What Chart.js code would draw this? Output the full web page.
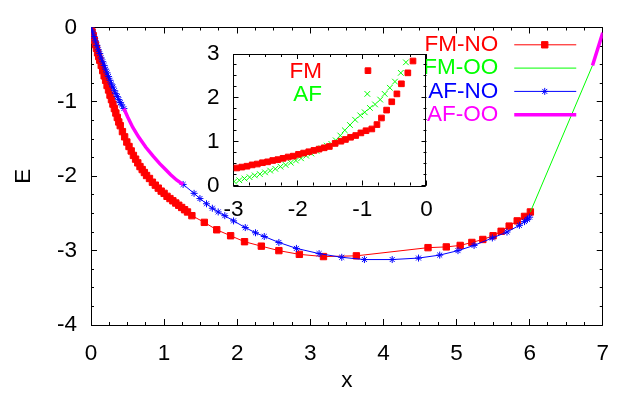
<!DOCTYPE html>
<html>
<head>
<meta charset="utf-8">
<script src="https://cdn.jsdelivr.net/npm/chart.js@4.4.1/dist/chart.umd.min.js"></script>
<style>
  html, body { margin: 0; padding: 0; background: #fff; }
  #wrap { position: relative; width: 624px; height: 396px; }
  #wrap canvas { position: absolute; left: 0; top: 0; }
  #inset { pointer-events: none; }
</style>
</head>
<body>
<div id="wrap">
  <canvas id="main" width="624" height="396"></canvas>
  <canvas id="inset" width="624" height="396"></canvas>
</div>
<script>
// ---- main panel: E vs x ----
const fmNoX = [0, 0.015, 0.03, 0.045, 0.06, 0.075, 0.09, 0.105, 0.12, 0.14, 0.16, 0.18, 0.20, 0.22, 0.24, 0.26,
  0.28, 0.30, 0.32, 0.34, 0.36, 0.38, 0.40, 0.43, 0.46, 0.49, 0.52, 0.55, 0.58, 0.61, 0.64, 0.67, 0.70, 0.73, 0.76,
  0.80, 0.84, 0.88, 0.92, 0.96, 1.00, 1.04, 1.08, 1.12, 1.16, 1.20, 1.24, 1.28, 1.32, 1.38,
  1.55, 1.72, 1.91, 2.10, 2.33, 2.57, 2.85, 3.18, 3.63, 4.61, 4.86, 5.05, 5.21, 5.36, 5.50, 5.61,
  5.72, 5.83, 5.93, 6.01];
const fmNoY = [0, -0.06, -0.11, -0.17, -0.23, -0.28, -0.34, -0.39, -0.44, -0.51, -0.58, -0.65, -0.71, -0.78, -0.84, -0.91,
  -0.97, -1.03, -1.09, -1.15, -1.21, -1.27, -1.32, -1.40, -1.47, -1.54, -1.60, -1.66, -1.72, -1.77, -1.82, -1.87, -1.91, -1.95, -1.99,
  -2.03, -2.08, -2.12, -2.16, -2.20, -2.23, -2.27, -2.30, -2.33, -2.36, -2.39, -2.42, -2.45, -2.48, -2.53,
  -2.62, -2.72, -2.80, -2.88, -2.94, -3.00, -3.05, -3.08, -3.07, -2.96, -2.95, -2.93, -2.89, -2.85, -2.80, -2.74,
  -2.67, -2.60, -2.54, -2.48];

const fmOoX = [6.01, 6.86];
const fmOoY = [-2.48, -0.51];

// null = no AF-NO solution there (gap)
const afNoX = [0, 0.02, 0.04, 0.06, 0.08, 0.10, 0.12, 0.14, 0.16, 0.18, 0.20, 0.22, 0.24, 0.26, 0.28, 0.30, 0.32,
  0.34, 0.36, 0.38, 0.40, 0.42, 0.45, 0.80,
  1.26, 1.41, 1.49, 1.58, 1.66, 1.74, 1.83, 1.95, 2.11, 2.25, 2.37, 2.57, 2.81, 3.12, 3.43, 3.74, 4.12, 4.48,
  4.77, 5.02, 5.24, 5.49, 5.69, 5.86, 5.93, 5.97, 6.00];
const afNoY = [0, -0.06, -0.12, -0.18, -0.24, -0.30, -0.35, -0.41, -0.46, -0.51, -0.56, -0.61, -0.66, -0.71, -0.76, -0.80, -0.85,
  -0.89, -0.93, -0.97, -1.01, -1.04, -1.09, null,
  -2.11, -2.23, -2.30, -2.37, -2.43, -2.48, -2.53, -2.60, -2.69, -2.76, -2.81, -2.89, -2.97, -3.04, -3.09, -3.12, -3.12, -3.10,
  -3.06, -3.00, -2.93, -2.83, -2.75, -2.66, -2.61, -2.58, -2.55];

const afOoX = [0.45, 0.50, 0.57, 0.65, 0.75, 0.85, 0.94, 1.02, 1.09, 1.17, 1.26, 4.0, 6.86, 7.0];
const afOoY = [-1.09, -1.20, -1.34, -1.47, -1.61, -1.73, -1.83, -1.91, -1.98, -2.05, -2.11, null, -0.51, -0.07];

const mainLabels = ['FM-NO', 'FM-OO', 'AF-NO', 'AF-OO'];

// ---- inset ----
const fmInX = [-2.95, -2.87, -2.79, -2.71, -2.63, -2.55, -2.47, -2.39, -2.31, -2.23, -2.15, -2.07, -1.99, -1.91,
  -1.83, -1.75, -1.67, -1.59, -1.51, -1.42, -1.33, -1.26, -1.18, -1.10, -1.02, -0.94, -0.91, -0.85, -0.77, -0.70,
  -0.62, -0.54, -0.46, -0.39, -0.29, -0.21];
const fmInY = [0.40, 0.42, 0.44, 0.47, 0.49, 0.52, 0.54, 0.57, 0.59, 0.62, 0.65, 0.67, 0.71, 0.74,
  0.77, 0.80, 0.83, 0.86, 0.89, 0.96, 1.01, 1.05, 1.10, 1.14, 1.20, 1.25, 2.62, 1.29, 1.39, 1.54,
  1.72, 1.91, 2.09, 2.32, 2.57, 2.84];

const afInX = [-2.99, -2.91, -2.83, -2.75, -2.67, -2.59, -2.51, -2.43, -2.35, -2.27, -2.19, -2.11, -2.03, -1.95,
  -1.87, -1.79, -1.71, -1.63, -1.55, -1.48, -1.41, -1.34, -1.27, -1.19, -1.11, -1.03, -0.96, -0.92, -0.88, -0.80,
  -0.72, -0.65, -0.57, -0.49, -0.40, -0.32];
const afInY = [0.09, 0.12, 0.16, 0.19, 0.23, 0.26, 0.30, 0.34, 0.38, 0.43, 0.47, 0.52, 0.57, 0.62,
  0.68, 0.73, 0.79, 0.85, 0.91, 0.95, 1.03, 1.14, 1.26, 1.38, 1.50, 1.60, 1.67, 2.09, 1.77, 1.85,
  1.96, 2.09, 2.23, 2.37, 2.57, 2.81];

const insetLabels = ['FM', 'AF'];

const FONT = "'Liberation Sans', Arial, Helvetica, sans-serif";
const FSIZE = 22.5;
Chart.defaults.font.family = FONT;
Chart.defaults.font.size = FSIZE;
Chart.defaults.color = '#000';

function pts(xs, ys) {
  return xs.map((x, i) => ({ x: x, y: ys[i] }));
}

// gnuplot-like frame with inward ticks on all four sides
function gpFrame(majLen, minLen) {
  return {
    id: 'gpFrame',
    beforeDatasetsDraw(chart) {
      const { ctx, chartArea: a, scales } = chart;
      const sx = scales.x, sy = scales.y;
      const c = v => Math.floor(v) + 0.5;
      ctx.save();
      ctx.strokeStyle = '#000';
      ctx.lineWidth = 1;
      ctx.beginPath();
      ctx.rect(c(a.left), c(a.top), Math.round(a.right - a.left) - 1, Math.round(a.bottom - a.top));
      for (let v = sx.min; v <= sx.max + 1e-9; v += 0.25) {
        const len = Math.abs(v - Math.round(v)) < 1e-6 ? majLen : minLen;
        const p = c(sx.getPixelForValue(v));
        ctx.moveTo(p, a.bottom); ctx.lineTo(p, a.bottom - len);
        ctx.moveTo(p, a.top); ctx.lineTo(p, a.top + len);
      }
      for (let v = sy.min; v <= sy.max + 1e-9; v += 0.25) {
        const len = Math.abs(v - Math.round(v)) < 1e-6 ? majLen : minLen;
        const p = c(sy.getPixelForValue(v));
        ctx.moveTo(a.left, p); ctx.lineTo(a.left + len, p);
        ctx.moveTo(a.right, p); ctx.lineTo(a.right - len, p);
      }
      ctx.stroke();
      ctx.restore();
    }
  };
}

// key in the top right corner: text right-aligned, sample to its right
function gpKey(withSample) {
  return {
    id: 'gpKey',
    afterDraw(chart) {
      const { ctx, chartArea: a } = chart;
      const tx = a.right - 104.5;
      ctx.save();
      ctx.font = FSIZE + 'px ' + FONT;
      ctx.textAlign = 'right';
      ctx.textBaseline = 'middle';
      chart.data.datasets.forEach((ds, i) => {
        const y = a.top + 17.3 + i * 23.3;
        ctx.fillStyle = ds.borderColor;
        ctx.fillText(ds.label, tx, y);
        if (!withSample) return;
        ctx.strokeStyle = ds.borderColor;
        ctx.lineWidth = ds.borderWidth;
        ctx.beginPath();
        ctx.moveTo(tx + 16, y);
        ctx.lineTo(tx + 78, y);
        ctx.stroke();
        if (ds.pointRadius > 0) {
          ctx.fillStyle = ds.backgroundColor;
          ctx.lineWidth = ds.pointBorderWidth;
          Chart.helpers.drawPoint(ctx, {
            pointStyle: ds.pointStyle, radius: ds.pointRadius, rotation: 0, borderWidth: ds.pointBorderWidth
          }, tx + 46.5, y);
        }
      });
      ctx.restore();
    }
  };
}

new Chart(document.getElementById('main'), {
  type: 'scatter',
  data: {
    datasets: [
      { label: mainLabels[0], data: pts(fmNoX, fmNoY), showLine: true, borderColor: '#ff0000', backgroundColor: '#ff0000',
        borderWidth: 1, pointStyle: 'rect', pointRadius: 4.5, pointBorderWidth: 1, order: 4 },
      { label: mainLabels[1], data: pts(fmOoX, fmOoY), showLine: true, borderColor: '#00ff00', backgroundColor: '#00ff00',
        borderWidth: 1, pointRadius: 0, order: 3 },
      { label: mainLabels[2], data: pts(afNoX, afNoY), showLine: true, borderColor: '#0000ff', backgroundColor: '#0000ff',
        borderWidth: 1, pointStyle: 'star', pointRadius: 3.5, pointBorderWidth: 1, order: 2 },
      { label: mainLabels[3], data: pts(afOoX, afOoY), showLine: true, borderColor: '#ff00ff', backgroundColor: '#ff00ff',
        borderWidth: 3.5, pointRadius: 0, order: 1 }
    ]
  },
  options: {
    responsive: false,
    animation: false,
    devicePixelRatio: 1,
    spanGaps: false,
    layout: { padding: { left: 0, top: 13, right: 17, bottom: 0 } },
    plugins: { legend: { display: false }, tooltip: { enabled: false } },
    scales: {
      x: {
        type: 'linear', min: 0, max: 7,
        ticks: { stepSize: 1, padding: 15 },
        grid: { display: false, drawTicks: false },
        border: { display: false },
        title: { display: true, text: 'x', padding: { top: 0, bottom: 2 } },
        afterFit: s => { s.height = 71; }
      },
      y: {
        type: 'linear', min: -4, max: 0,
        ticks: { stepSize: 1, padding: 14 },
        grid: { display: false, drawTicks: false },
        border: { display: false },
        title: { display: true, text: 'E', padding: { top: 10, bottom: 0 } },
        afterFit: s => { s.width = 91; }
      }
    }
  },
  plugins: [gpFrame(6, 3), gpKey(true)]
});

new Chart(document.getElementById('inset'), {
  type: 'scatter',
  data: {
    datasets: [
      { label: insetLabels[0], data: pts(fmInX, fmInY), borderColor: '#ff0000', backgroundColor: '#ff0000',
        pointStyle: 'rect', pointRadius: 4, pointBorderWidth: 1 },
      { label: insetLabels[1], data: pts(afInX, afInY), borderColor: '#00ff00', backgroundColor: '#00ff00',
        pointStyle: 'crossRot', pointRadius: 4, pointBorderWidth: 1 }
    ]
  },
  options: {
    responsive: false,
    animation: false,
    devicePixelRatio: 1,
    layout: { padding: { left: 193.5, top: 54, right: 197.5, bottom: 170.5 } },
    plugins: { legend: { display: false }, tooltip: { enabled: false } },
    scales: {
      x: {
        type: 'linear', min: -3, max: 0,
        ticks: { stepSize: 1, padding: 11 },
        grid: { display: false, drawTicks: false },
        border: { display: false },
        afterFit: s => { s.height = 40; }
      },
      y: {
        type: 'linear', min: 0, max: 3,
        ticks: { stepSize: 1, padding: 14 },
        grid: { display: false, drawTicks: false },
        border: { display: false },
        afterFit: s => { s.width = 40; }
      }
    }
  },
  plugins: [gpFrame(5, 3), gpKey(false)]
});
</script>
</body>
</html>
